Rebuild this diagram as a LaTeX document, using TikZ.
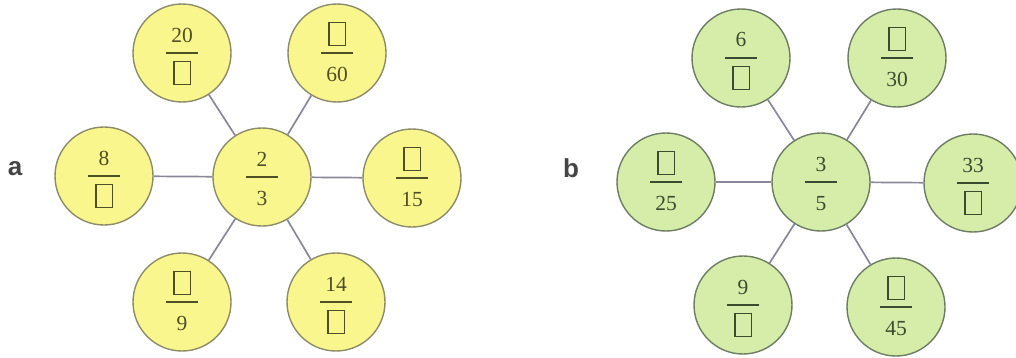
\documentclass[tikz,border=0pt]{standalone}
\usepackage{fontspec}
\setmainfont{Liberation Serif}
\newfontfamily\labfont{Liberation Sans}
\definecolor{yelfill}{RGB}{250,246,142}
\definecolor{yeldraw}{RGB}{140,140,105}
\definecolor{yeltext}{RGB}{80,78,36}
\definecolor{grnfill}{RGB}{213,237,168}
\definecolor{grndraw}{RGB}{110,124,100}
\definecolor{grntext}{RGB}{58,76,48}
\definecolor{spoke}{RGB}{136,136,152}
\definecolor{labcol}{RGB}{68,68,68}
\newcommand\bx{\raisebox{-3pt}{\setlength\fboxsep{0pt}\setlength\fboxrule{1.1pt}\fbox{\rule{0pt}{22pt}\hspace{15pt}}}}
\tikzset{
  circa/.style={circle, minimum size=98pt, inner sep=0pt, fill=yelfill, draw=yeldraw, line width=1.4pt},
  circb/.style={circle, minimum size=98pt, inner sep=0pt, fill=grnfill, draw=grndraw, line width=1.4pt},
  txta/.style={inner sep=0pt, text=yeltext, font=\fontsize{21.5}{24}\selectfont},
  txtb/.style={inner sep=0pt, text=grntext, font=\fontsize{21.5}{24}\selectfont},
  bara/.style={draw=yeltext, line width=1.2pt},
  barb/.style={draw=grntext, line width=1.2pt},
  spokeline/.style={draw=spoke, line width=1.7pt},
  panellabel/.style={inner sep=0pt, text=labcol, font=\labfont\bfseries\fontsize{26}{30}\selectfont}
}
\newcommand\frc[6]{%
  \node[circ#4] (#1) at (#2,#3) {};
  \node[txt#4, anchor=base] (#1n) at (#2,#3+11) {#5};
  \draw[bar#4] ([xshift=-16pt]#1.center) -- ([xshift=16pt]#1.center);
  \node[txt#4, anchor=base] (#1d) at (#2,#3-28) {#6};
}
\begin{document}
\begin{tikzpicture}[x=1pt,y=1pt]
\useasboundingbox (0,0) rectangle (1016,357);
% panel a
\node[panellabel, anchor=base] (la) at (15,182) {a};
\frc{ac}{262}{180}{a}{2}{3}
\frc{atl}{182}{304}{a}{20}{\bx}
\frc{atr}{337}{304}{a}{\bx}{60}
\frc{al}{104}{181}{a}{8}{\bx}
\frc{ar}{412}{179}{a}{\bx}{15}
\frc{abl}{182}{55}{a}{\bx}{9}
\frc{abr}{336}{55}{a}{14}{\bx}
\foreach \t in {atl,atr,al,ar,abl,abr}{\draw[spokeline] (ac) -- (\t);}
% panel b
\node[panellabel, anchor=base] (lb) at (571,180) {b};
\frc{bc}{821}{175}{b}{3}{5}
\frc{btl}{741}{299}{b}{6}{\bx}
\frc{btr}{897}{299}{b}{\bx}{30}
\frc{bl}{666}{175}{b}{\bx}{25}
\frc{br}{973}{174}{b}{33}{\bx}
\frc{bbl}{743}{52}{b}{9}{\bx}
\frc{bbr}{896}{50}{b}{\bx}{45}
\foreach \t in {btl,btr,bl,br,bbl,bbr}{\draw[spokeline] (bc) -- (\t);}
\end{tikzpicture}
\end{document}
